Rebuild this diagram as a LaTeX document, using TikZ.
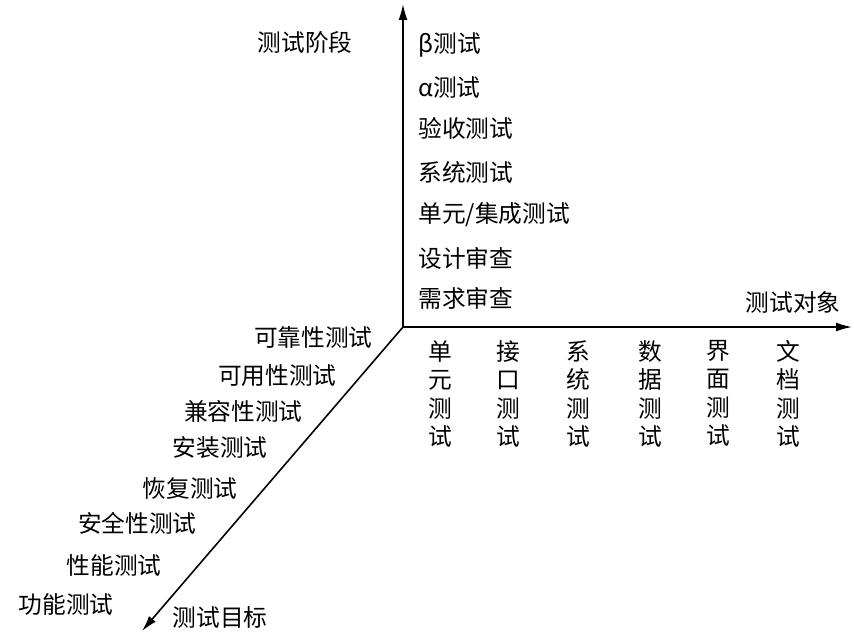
\documentclass[tikz,border=0pt]{standalone}
\usepackage{fontspec}
\setmainfont{Noto Sans CJK SC}
\usetikzlibrary{arrows.meta}
\begin{document}
\begin{tikzpicture}[x=0.02cm,y=-0.02cm,
  lab/.style={font=\fontsize{13.5}{15}\selectfont,inner sep=0pt},
  col/.style={font=\fontsize{13.5}{16.2}\selectfont,inner sep=0pt,align=center,anchor=north},
  ax/.style={draw,line width=0.9pt,-{Latex[length=9pt,width=5pt]}}]
\useasboundingbox (0,0) rectangle (854,637);
\coordinate (o) at (403,327);
\coordinate (top) at (403,4);
\coordinate (right) at (852,327);
\coordinate (bl) at (142,631);
\draw[ax] (o) -- (top);
\draw[ax] (o) -- (right);
\draw[ax] (o) -- (bl);
\node[lab] (ya) at (305,42) {测试阶段};
\node[lab] (xa) at (793,302) {测试对象};
\node[lab] (za) at (220,617) {测试目标};
\foreach \t/\y [count=\i] in {β测试/45,α测试/88,验收测试/128,系统测试/172,{单元/集成测试}/215,设计审查/258,需求审查/298}
  \node[lab,anchor=west] (p\i) at (418,\y) {\t};
\node[col] (c1) at (440,340) {单\\元\\测\\试};
\node[col] (c2) at (508,340) {接\\口\\测\\试};
\node[col] (c3) at (578,340) {系\\统\\测\\试};
\node[col] (c4) at (650,340) {数\\据\\测\\试};
\node[col] (c5) at (718,340) {界\\面\\测\\试};
\node[col] (c6) at (788,340) {文\\档\\测\\试};
\foreach \t/\x/\y [count=\i] in {可靠性测试/373/337,可用性测试/337/376,兼容性测试/303/411,安装测试/268/448,恢复测试/238/488,安全性测试/197/523,性能测试/162/565,功能测试/114/604}
  \node[lab,anchor=east] (g\i) at (\x,\y) {\t};
\end{tikzpicture}
\end{document}
